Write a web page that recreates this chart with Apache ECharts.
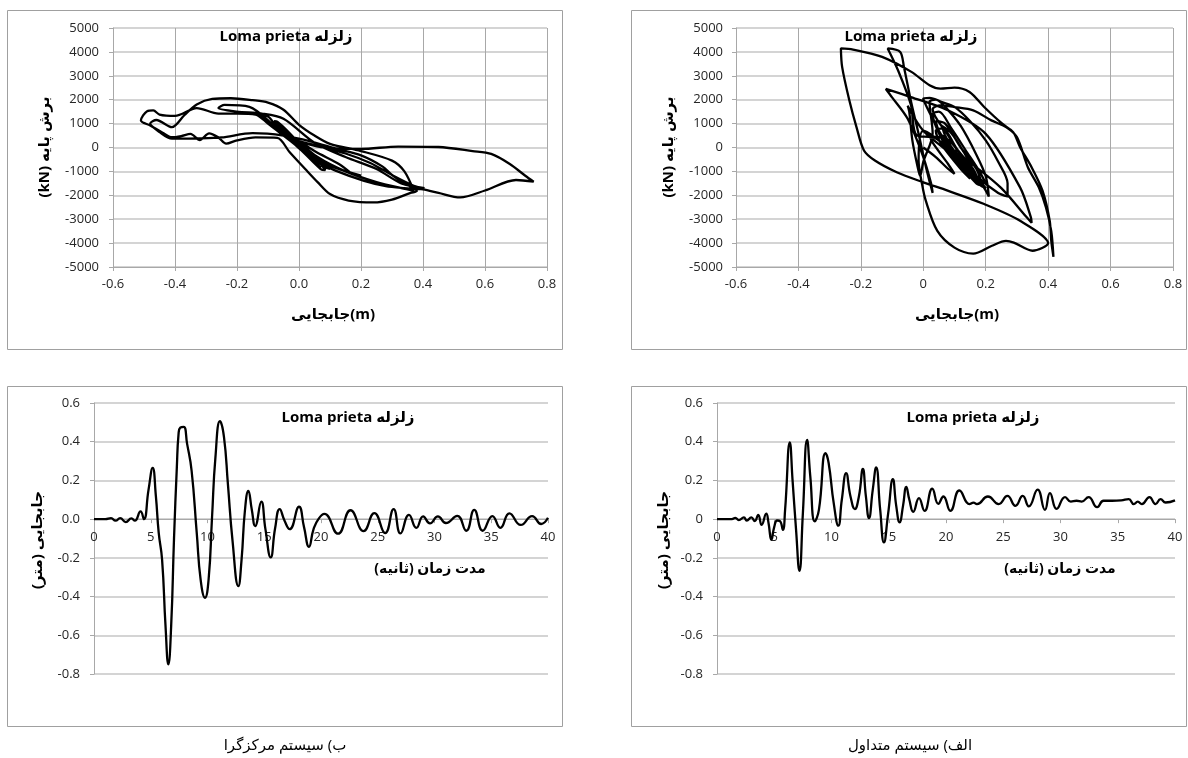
<!DOCTYPE html>
<html>
<head>
<meta charset="utf-8">
<script src="https://cdn.jsdelivr.net/npm/echarts@6/dist/echarts.min.js"></script>
<style>
  html, body { margin: 0; padding: 0; background: #fff; }
  #main { width: 1188px; height: 758px; }
</style>
</head>
<body>
<div id="main"></div>
<script>
// hysteresis, centralized system (top-left): [displacement m, base shear kN]
var hystCentral = [
  [0,0],[0.02,-250],[0.04,-450],[0.03,-380],[-0.01,150],[-0.03,450],[-0.02,400],[0.03,-300],[0.06,-700],[0.07,-850],
  [0.05,-650],[-0.02,250],[-0.05,750],[-0.06,900],[-0.04,700],[0.02,-100],[0.07,-700],[0.085,-950],[0.07,-900],[0.0,0],
  [-0.06,850],[-0.08,1100],[-0.07,1080],[0.0,200],[0.06,-450],[0.12,-850],[0.2,-1180],[0.14,-950],[0.06,-550],[-0.02,200],
  [-0.1,1000],[-0.14,1380],[-0.2,1420],[-0.26,1420],[-0.33,1650],[-0.4,1320],[-0.45,1380],[-0.47,1550],[-0.49,1520],[-0.51,1130],
  [-0.48,920],[-0.44,620],[-0.41,430],[-0.38,480],[-0.35,570],[-0.32,310],[-0.29,590],[-0.26,420],[-0.235,160],[-0.2,300],
  [-0.14,420],[-0.07,400],[-0.03,-200],[0.02,-900],[0.06,-1450],[0.1,-1950],[0.16,-2220],[0.24,-2300],[0.3,-2180],[0.36,-1900],
  [0.38,-1820],[0.34,-1500],[0.3,-1150],[0.27,-800],[0.2,-330],[0.12,-50],[0.04,250],[-0.05,500],[-0.15,600],[-0.25,420],
  [-0.32,380],[-0.41,370],[-0.45,650],[-0.48,1000],[-0.46,1150],[-0.41,850],[-0.37,1350],[-0.33,1800],[-0.28,2030],[-0.22,2060],
  [-0.15,1980],[-0.1,1880],[-0.05,1580],[0.0,950],[0.05,500],[0.1,150],[0.2,-150],[0.3,-550],[0.34,-1000],[0.37,-1800],
  [0.33,-1700],[0.25,-1450],[0.15,-1000],[0.06,-400],[0.0,250],[0.07,20],[0.2,-60],[0.32,40],[0.45,20],[0.56,-150],
  [0.62,-270],[0.68,-690],[0.73,-1180],[0.757,-1430],[0.7,-1360],[0.6,-1800],[0.52,-2090],[0.45,-1900],[0.4,-1750],[0.34,-1700],
  [0.28,-1620],[0.21,-1400],[0.12,-980],[0.05,-550],[-0.02,200],[-0.08,900],[-0.16,1700],[-0.24,1780],[-0.26,1650],[-0.2,1500],
  [-0.12,1420],[-0.05,1200],[0.05,200],[0.15,-400],[0.25,-900],[0.33,-1500],[0.405,-1700],[0.37,-1600],[0.3,-1150],[0.23,-650],
  [0.15,-250],[0.05,100],[-0.05,500],[-0.1,1300],[-0.13,1350],[-0.1,1100],[-0.02,300],[0.06,-450],[0.12,-850],[0.17,-1100],
  [0.13,-700],[0.05,-150],[-0.05,700],[-0.08,1050],[-0.05,750],[0.03,-250],[0.08,-800],[0.1,-900],[0.07,-600],[0.0,100],
  [-0.04,500],[-0.02,400],[0.04,-300],[0.06,-500]
];

// hysteresis, conventional system (top-right)
var hystConventional = [
  [0,0],[0.04,-400],[0.08,-900],[0.1,-1100],[0.08,-700],[0.03,200],[0.02,500],[0.05,300],[0.1,-500],[0.14,-1100],
  [0.15,-1300],[0.12,-900],[0.06,100],[0.04,700],[0.06,800],[0.11,-100],[0.16,-900],[0.18,-1500],[0.16,-1300],[0.1,-300],
  [0.05,700],[0.04,1100],[0.07,1000],[0.12,0],[0.17,-900],[0.19,-1600],[0.17,-1500],[0.08,-200],[0.0,700],[-0.05,1750],
  [-0.045,1500],[-0.035,300],[-0.02,-700],[-0.01,-1200],[0.0,-600],[0.03,600],[0.02,1900],[0.04,2000],[0.07,1700],[0.12,900],
  [0.17,-300],[0.2,-1200],[0.21,-2050],[0.19,-1600],[0.13,-800],[0.07,100],[0.03,1200],[0.0,2050],[0.02,2080],[0.06,1900],
  [0.1,1700],[0.15,1100],[0.2,300],[0.24,-600],[0.27,-1500],[0.27,-2050],[0.24,-1900],[0.18,-1300],[0.12,-500],[0.06,400],
  [-0.02,500],[-0.04,1800],[-0.08,3200],[-0.114,4144],[-0.074,4000],[-0.062,3370],[-0.04,1970],[-0.015,570],[0.01,-900],[0.03,-1900],
  [0.025,-1500],[0.0,-400],[-0.05,1200],[-0.1,2100],[-0.12,2450],[-0.04,2110],[0.08,1550],[0.2,570],[0.31,-1670],[0.345,-2930],
  [0.347,-3150],[0.33,-2900],[0.25,-1700],[0.17,-830],[0.08,0],[0.0,700],[-0.015,-550],[-0.004,-1526],[0.008,-2226],[0.045,-3490],
  [0.1,-4190],[0.16,-4440],[0.22,-4110],[0.265,-3910],[0.29,-3980],[0.35,-4320],[0.4,-4000],[0.31,-3066],[0.195,-2366],[0.078,-1806],
  [0.0,-1456],[-0.085,-1036],[-0.155,-546],[-0.19,-126],[-0.214,854],[-0.237,1974],[-0.26,3374],[-0.264,4144],[-0.225,4100],[-0.132,3794],
  [-0.038,3164],[0.02,2604],[0.055,2464],[0.1,2506],[0.148,2324],[0.195,1694],[0.253,994],[0.288,644],[0.31,14],[0.347,-826],
  [0.382,-1806],[0.405,-3066],[0.41,-3906],[0.417,-4578],[0.41,-3500],[0.393,-2506],[0.37,-1666],[0.335,-826],[0.3,434],[0.265,854],
  [0.218,1134],[0.16,1554],[0.1,1694],[0.055,1764],[0.03,1600],[0.08,500],[0.13,-500],[0.16,-1100],[0.13,-800],[0.08,0],
  [0.06,500],[0.09,200],[0.12,-300],[0.17,-1200],[0.2,-1700],[0.18,-1550],[0.1,-500],[0.05,600],[0.03,1400],[0.05,1500],
  [0.09,800],[0.14,-200],[0.18,-1000],[0.2,-1500],[0.17,-1300],[0.11,-400],[0.07,500],[0.06,900],[0.09,600],[0.13,-200],
  [0.15,-700],[0.13,-600],[0.1,-100]
];

// displacement time history, centralized system (bottom-left): [time s, disp m]
var timeCentral = [
  [0,0],[1,0],[1.5,0.005],[1.9,-0.008],[2.3,0.005],[2.8,-0.015],[3.3,0.004],[3.6,-0.008],[4.1,0.04],[4.4,0.0],
  [4.8,0.15],[5.17,0.265],[5.45,0.12],[5.7,-0.07],[6.0,-0.21],[6.3,-0.55],[6.55,-0.75],[6.8,-0.55],[7.05,-0.1],[7.3,0.27],
  [7.45,0.44],[7.6,0.473],[7.9,0.477],[8.2,0.39],[8.6,0.25],[9.05,-0.07],[9.4,-0.315],[9.78,-0.406],[10.1,-0.31],[10.4,0.01],
  [10.7,0.32],[11.1,0.506],[11.45,0.425],[11.8,0.18],[12.2,-0.108],[12.72,-0.346],[13.0,-0.21],[13.3,0.046],[13.6,0.146],[13.9,0.05],
  [14.2,-0.036],[14.74,0.09],[15.1,-0.05],[15.57,-0.198],[15.95,-0.05],[16.36,0.052],[16.8,-0.01],[17.24,-0.052],[18.06,0.064],[18.5,-0.04],
  [18.94,-0.143],[19.35,-0.05],[19.8,0.003],[20.3,0.027],[21.5,-0.075],[22.6,0.046],[23.75,-0.062],[24.7,0.031],[25.65,-0.072],[26.4,0.052],
  [27.0,-0.074],[27.75,0.022],[28.4,-0.045],[29.0,0.014],[29.6,-0.022],[30.3,0.014],[31.0,-0.02],[32.0,0.017],[32.8,-0.06],[33.5,0.048],
  [34.25,-0.06],[35.1,0.016],[35.8,-0.045],[36.6,0.03],[37.6,-0.03],[38.6,0.016],[39.4,-0.025],[40,0.007]
];

// displacement time history, conventional system (bottom-right)
var timeConventional = [
  [0,0],[1.3,0],[1.6,0.007],[1.9,-0.005],[2.35,0.009],[2.6,-0.007],[3.0,0.009],[3.3,-0.01],[3.6,0.022],[3.9,-0.03],
  [4.3,0.028],[4.5,-0.02],[4.75,-0.107],[5.0,-0.04],[5.25,-0.007],[5.5,-0.01],[5.75,-0.055],[5.95,0.05],[6.36,0.397],[6.6,0.2],
  [6.9,-0.05],[7.2,-0.267],[7.5,0.03],[7.87,0.41],[8.15,0.22],[8.54,-0.012],[8.9,0.048],[9.48,0.341],[9.75,0.29],[10.2,0.08],
  [10.6,-0.034],[10.9,0.1],[11.28,0.238],[11.65,0.12],[12.04,0.052],[12.4,0.12],[12.74,0.259],[13.0,0.12],[13.27,0.005],[13.6,0.15],
  [13.9,0.267],[14.25,0.05],[14.58,-0.12],[14.95,0.03],[15.36,0.207],[15.65,0.07],[15.95,-0.017],[16.25,0.07],[16.53,0.166],[16.8,0.1],
  [17.14,0.038],[17.64,0.109],[18.13,0.043],[18.8,0.157],[19.33,0.079],[19.77,0.117],[20.38,0.043],[21.17,0.148],[22.05,0.078],[22.4,0.085],
  [22.7,0.078],[23.66,0.117],[24.6,0.078],[25.36,0.12],[26.06,0.069],[26.7,0.12],[27.23,0.066],[28.0,0.152],[28.64,0.048],[29.08,0.134],
  [29.66,0.053],[30.4,0.114],[30.9,0.091],[31.4,0.095],[31.85,0.091],[32.45,0.114],[33.2,0.062],[33.76,0.095],[34.5,0.095],[35.3,0.097],
  [35.96,0.103],[36.4,0.078],[36.75,0.09],[37.1,0.078],[37.77,0.114],[38.3,0.078],[38.74,0.103],[39.18,0.086],[40,0.097]
];

var chartTitle = 'Loma prieta زلزله';
var hystXName = 'جابجایی(m)';
var hystYName = '(kN) برش پایه';
var timeXName = 'مدت زمان (ثانیه)';
var timeYName = 'جابجایی (متر)';
var captionCentral = 'ب) سیستم مرکزگرا';
var captionConventional = 'الف) سیستم متداول';

var FONT = "'Open Sans', 'DejaVu Sans', sans-serif";
var labelStyle = { color: '#262626', fontSize: 13, fontFamily: FONT };
var gridLine = { show: true, lineStyle: { color: '#c6c6c6', width: 1.5 } };
var vGridLine = { show: true, lineStyle: { color: '#a8a8a8', width: 1 } };
var tick = { show: true, length: 4, lineStyle: { color: '#a8a8a8' } };

// time-history grids: height and y range, used to put the time axis on y = 0
var TIME_H = 271, TIME_MIN = -0.8, TIME_MAX = 0.6;
var zeroOffset = -(0 - TIME_MIN) / (TIME_MAX - TIME_MIN) * TIME_H;

function fmt1(v) { return Math.abs(v) < 1e-9 ? '0.0' : v.toFixed(1); }
function fmt0(v) { return Math.abs(v) < 1e-9 ? '0' : v.toFixed(1); }
function fmtInt(v) { return String(Math.round(v)); }
var axLine = { show: true, onZero: false, lineStyle: { color: '#a8a8a8', width: 1 } };

function hystX(i, f) {
  return { gridIndex: i, type: 'value', min: -0.6, max: 0.8, interval: 0.2,
    axisLine: axLine, axisTick: tick, splitLine: vGridLine,
    axisLabel: Object.assign({ formatter: f, margin: 11 }, labelStyle) };
}
function hystY(i, m) {
  return { gridIndex: i, type: 'value', min: -5000, max: 5000, interval: 1000,
    axisLine: axLine, axisTick: tick, splitLine: gridLine,
    axisLabel: Object.assign({ formatter: fmtInt, margin: m }, labelStyle) };
}
function timeX(i) {
  return { gridIndex: i, type: 'value', min: 0, max: 40, interval: 5, position: 'bottom',
    offset: zeroOffset, axisLine: axLine, axisTick: tick, splitLine: { show: false },
    axisLabel: Object.assign({ margin: 12 }, labelStyle) };
}
function timeY(i, f) {
  return { gridIndex: i, type: 'value', min: TIME_MIN, max: TIME_MAX, interval: 0.2,
    axisLine: axLine, axisTick: tick, splitLine: gridLine,
    axisLabel: Object.assign({ formatter: f, margin: 14 }, labelStyle) };
}
function line(i, data, sm) {
  return { type: 'line', xAxisIndex: i, yAxisIndex: i, data: data, showSymbol: false,
    smooth: sm, lineStyle: { color: '#000', width: 2.3 }, animation: false };
}
function txt(x, y, s, font, rot) {
  return { type: 'text', x: x, y: y, rotation: rot || 0, z: 10,
    style: { text: s, font: font, fill: '#000', align: 'center', verticalAlign: 'middle' } };
}
function box(x, y, w, h) {
  return { type: 'rect', shape: { x: x, y: y, width: w, height: h }, z: -1,
    style: { fill: 'none', stroke: '#a0a0a0', lineWidth: 1 } };
}

var chart = echarts.init(document.getElementById('main'), null, { renderer: 'canvas' });
var bold15 = 'bold 15px ' + FONT;
chart.setOption({
  animation: false,
  backgroundColor: '#fff',
  grid: [
    { left: 113, top: 28, width: 434, height: 239 },
    { left: 736, top: 28, width: 437, height: 239 },
    { left: 94, top: 403, width: 454, height: TIME_H },
    { left: 717, top: 403, width: 458, height: TIME_H }
  ],
  xAxis: [hystX(0, fmt1), hystX(1, fmt0), timeX(2), timeX(3)],
  yAxis: [hystY(0, 14), hystY(1, 13), timeY(2, fmt1), timeY(3, fmt0)],
  series: [
    line(0, hystCentral, 0.3),
    line(1, hystConventional, 0.3),
    line(2, timeCentral, 0.5),
    line(3, timeConventional, 0.5)
  ],
  graphic: [
    box(7.5, 10.5, 555, 339), box(631.5, 10.5, 555, 339),
    box(7.5, 386.5, 555, 340), box(631.5, 386.5, 555, 340),
    txt(286, 37, chartTitle, bold15), txt(911, 37, chartTitle, bold15),
    txt(348, 418, chartTitle, bold15), txt(973, 418, chartTitle, bold15),
    txt(333, 315, hystXName, bold15), txt(957, 315, hystXName, bold15),
    txt(45, 147, hystYName, bold15, Math.PI / 2), txt(669, 147, hystYName, bold15, Math.PI / 2),
    txt(430, 569, timeXName, 'bold 14px ' + FONT), txt(1060, 569, timeXName, 'bold 14px ' + FONT),
    txt(38, 540, timeYName, bold15, Math.PI / 2), txt(664, 540, timeYName, bold15, Math.PI / 2),
    txt(285, 746, captionCentral, '15px ' + FONT), txt(910, 746, captionConventional, '15px ' + FONT)
  ]
});
</script>
</body>
</html>
